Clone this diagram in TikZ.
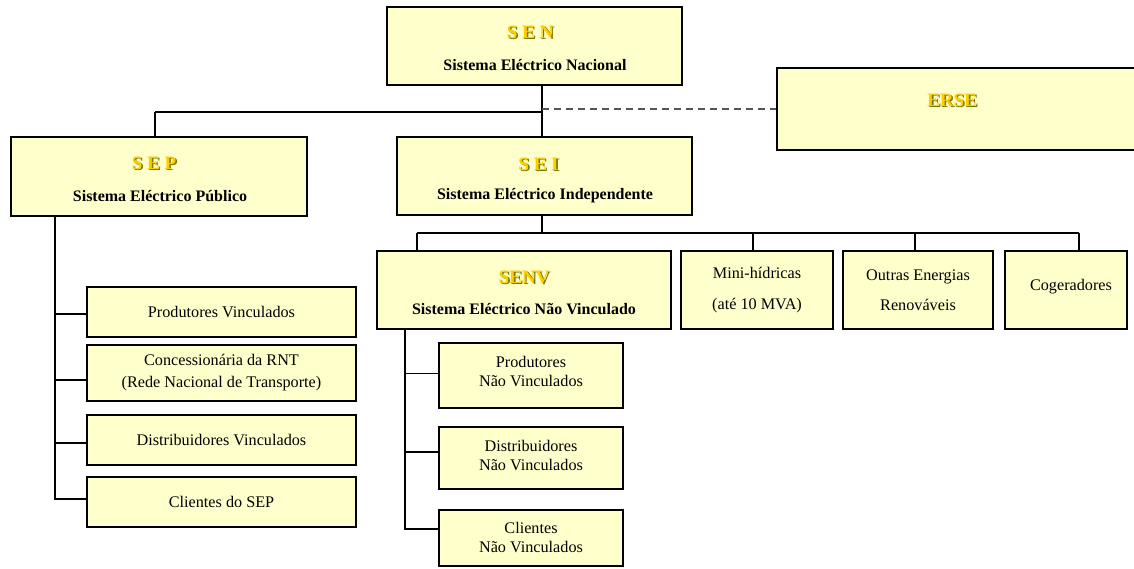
\documentclass[tikz,border=0pt]{standalone}
\usepackage{fontspec}
\setmainfont{Liberation Serif}
\usetikzlibrary{calc}
\definecolor{boxfill}{RGB}{255,255,204}
\definecolor{titlegold}{RGB}{255,204,0}
\definecolor{titleshade}{RGB}{120,120,0}
\definecolor{dashgray}{RGB}{85,85,85}
\begin{document}
\begin{tikzpicture}[x=1pt,y=-1pt,
  box/.style={draw=black, fill=boxfill, line width=1.5pt, inner sep=0pt},
  txt/.style={font=\fontsize{16.2}{18}\selectfont, inner sep=0pt, align=center},
  subttl/.style={font=\fontsize{16}{18}\selectfont\bfseries, inner sep=0pt},
  ttl/.style={font=\fontsize{19}{22}\selectfont\bfseries, inner sep=0pt, text=titlegold},
  ttlsh/.style={font=\fontsize{19}{22}\selectfont\bfseries, inner sep=0pt, text=titleshade},
  conn/.style={draw=black, line width=1.4pt},
  dashconn/.style={draw=dashgray, line width=1.4pt, dash pattern=on 7pt off 5pt}]
\useasboundingbox (0,0) rectangle (1134,569);
\clip (0,0) rectangle (1134,569);
% boxes
\node[box, minimum width=295pt, minimum height=78pt] (sen) at (534.5,46) {};
\node[box, minimum width=370pt, minimum height=82pt] (erse) at (962,109) {};
\node[box, minimum width=296pt, minimum height=79pt] (sep) at (159,176.5) {};
\node[box, minimum width=295pt, minimum height=78pt] (sei) at (544.5,176) {};
\node[box, minimum width=294pt, minimum height=78pt] (senv) at (524,290) {};
\node[box, minimum width=152pt, minimum height=78pt] (mini) at (757,290) {};
\node[box, minimum width=150pt, minimum height=78pt] (outras) at (918,290) {};
\node[box, minimum width=122pt, minimum height=78pt] (coge) at (1066,290) {};
\node[box, minimum width=269pt, minimum height=50pt] (pv) at (221.5,312) {};
\node[box, minimum width=269pt, minimum height=56pt] (conc) at (221.5,373) {};
\node[box, minimum width=269pt, minimum height=50pt] (dv) at (221.5,440) {};
\node[box, minimum width=269pt, minimum height=50pt] (csep) at (221.5,502) {};
\node[box, minimum width=184pt, minimum height=65pt] (pnv) at (531,375.5) {};
\node[box, minimum width=184pt, minimum height=62pt] (dnv) at (531,458) {};
\node[box, minimum width=184pt, minimum height=56pt] (cnv) at (531,538) {};
% titles
\node[ttlsh] at (531.6,33.6) {S E N};
\node[ttl] (sent) at (530,32) {S E N};
\node[subttl] (sens) at (535,65) {Sistema Eléctrico Nacional};
\node[ttlsh] at (953.6,101.6) {ERSE};
\node[ttl] (erset) at (952,100) {ERSE};
\node[ttlsh] at (155.6,164.6) {S E P};
\node[ttl] (sept) at (154,163) {S E P};
\node[subttl] (seps) at (160,196) {Sistema Eléctrico Público};
\node[ttlsh] at (540.1,165.6) {S E I};
\node[ttl] (seit) at (538.5,164) {S E I};
\node[subttl] (seis) at (545,196) {Sistema Eléctrico Independente};
\node[ttlsh] at (525.6,278.6) {SENV};
\node[ttl] (senvt) at (524,277) {SENV};
\node[subttl] (senvs) at (524,309) {Sistema Eléctrico Não Vinculado};
% texts
\node[txt, font=\fontsize{16.2}{31}\selectfont] at (757,290.5) {Mini-hídricas\\(até 10 MVA)};
\node[txt, font=\fontsize{16.2}{30}\selectfont] at (918,290) {Outras Energias\\Renováveis};
\node[txt] at (1071,287) {Cogeradores};
\node[txt] at (221.5,312.5) {Produtores Vinculados};
\node[txt, font=\fontsize{16.2}{22}\selectfont] at (221.5,373) {Concessionária da RNT\\(Rede Nacional de Transporte)};
\node[txt] at (221.5,440) {Distribuidores Vinculados};
\node[txt] at (221.5,502) {Clientes do SEP};
\node[txt, font=\fontsize{16.2}{19}\selectfont] at (531,372) {Produtores\\Não Vinculados};
\node[txt, font=\fontsize{16.2}{19}\selectfont] at (531,455) {Distribuidores\\Não Vinculados};
\node[txt, font=\fontsize{16.2}{19}\selectfont] at (531,537.5) {Clientes\\Não Vinculados};
% connector points
\coordinate (jtop) at (542,112);
\coordinate (jsep) at (155,112);
\coordinate (jdash) at (542,109);
\coordinate (jrow) at (542,233);
\coordinate (r1) at (417,233);
\coordinate (r2) at (753,233);
\coordinate (r3) at (915,233);
\coordinate (r4) at (1079,233);
\coordinate (sepstem) at (55,0);
\coordinate (senvstem) at (405,0);
% connectors
\draw[conn] (sen.south -| jtop) -- (jtop);
\draw[conn] (jsep) -- (jtop);
\draw[conn] (jsep) -- (sep.north -| jsep);
\draw[conn] (jtop) -- (sei.north -| jtop);
\draw[dashconn] (jdash) -- (erse.west |- jdash);
\draw[conn] (sei.south -| jrow) -- (jrow);
\draw[conn] (r1) -- (r4);
\draw[conn] (r1) -- (senv.north -| r1);
\draw[conn] (r2) -- (mini.north -| r2);
\draw[conn] (r3) -- (outras.north -| r3);
\draw[conn] (r4) -- (coge.north -| r4);
\draw[conn] (sep.south -| sepstem) |- ([yshift=-2pt]pv.west);
\draw[conn] (sep.south -| sepstem) |- ([yshift=-7pt]conc.west);
\draw[conn] (sep.south -| sepstem) |- ([yshift=-3pt]dv.west);
\draw[conn] (sep.south -| sepstem) |- ([yshift=3pt]csep.west);
\draw[conn] (senv.south -| senvstem) |- ([yshift=2pt]pnv.west);
\draw[conn] (senv.south -| senvstem) |- ([yshift=6pt]dnv.west);
\draw[conn] (senv.south -| senvstem) |- ([yshift=9pt]cnv.west);
\end{tikzpicture}
\end{document}
